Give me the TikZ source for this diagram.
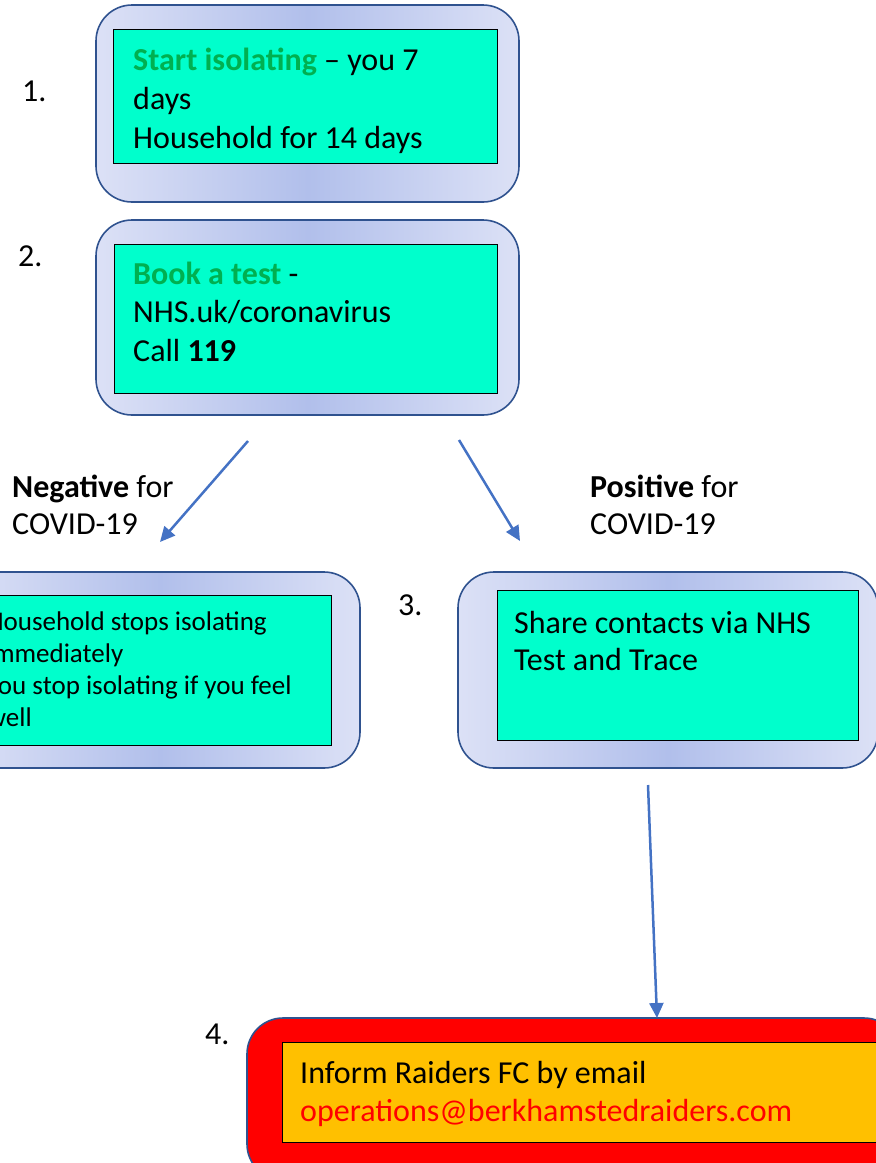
\documentclass[tikz,border=0pt]{standalone}
\usepackage{fontspec}
\setmainfont{Carlito}
\usetikzlibrary{arrows.meta}
\definecolor{aqua}{HTML}{00FFCC}
\definecolor{bordblue}{HTML}{2F528F}
\definecolor{arrblue}{HTML}{4472C4}
\definecolor{grn}{HTML}{00B050}
\definecolor{shin}{HTML}{B1BFEB}
\definecolor{shout}{HTML}{DCE1F6}
\definecolor{amber}{HTML}{FFC000}
\tikzset{
 boxbase/.style={draw=bordblue, line width=1.6pt, rounded corners=36pt, inner sep=0pt, outer sep=0pt},
 outerbox/.style={boxbase, left color=shout, right color=shout, middle color=shin},
 redbox/.style={boxbase, fill=red},
 innerbox/.style={draw=black, line width=0.9pt, fill=aqua, inner sep=0pt, outer sep=0pt},
 txt/.style={anchor=base west, inner sep=0pt, font=\fontsize{32}{38}\selectfont},
 stxt/.style={anchor=base west, inner sep=0pt, font=\fontsize{27}{32}\selectfont},
 conn/.style={draw=arrblue, line width=2.5pt, -{Triangle[length=15pt,width=14pt]}},
}
\begin{document}
\begin{tikzpicture}[x=1pt,y=-1pt]
\useasboundingbox (0,0) rectangle (876,1163);
\clip (0,0) rectangle (876,1163);
% box 1
\node[outerbox, minimum width=423pt, minimum height=197pt] (o1) at (307.5,103.5) {};
\node[innerbox, minimum width=384pt, minimum height=134pt] (i1) at (305,96) {};
\node[txt] (t1a) at (133,70) {\textcolor{grn}{\textbf{Start isolating}} – you 7};
\node[txt] (t1b) at (133,109) {days};
\node[txt] (t1c) at (133,148) {Household for 14 days};
\node[txt] (n1) at (22,101) {1.};
% box 2
\node[outerbox, minimum width=423pt, minimum height=195pt] (o2) at (307.5,317.5) {};
\node[innerbox, minimum width=383pt, minimum height=149pt] (i2) at (305.5,318.5) {};
\node[txt] (t2a) at (133,284) {\textcolor{grn}{\textbf{Book a test}} -};
\node[txt] (t2b) at (133,322) {NHS.uk/coronavirus};
\node[txt] (t2c) at (133,361) {Call \textbf{119}};
\node[txt] (n2) at (18,266) {2.};
% labels
\node[txt] (neg1) at (12,497) {\textbf{Negative} for};
\node[txt] (neg2) at (12,534) {COVID-19};
\node[txt] (pos1) at (590,497) {\textbf{Positive} for};
\node[txt] (pos2) at (590,534) {COVID-19};
% negative box
\node[outerbox, minimum width=400pt, minimum height=196pt] (o3) at (160,670) {};
\node[innerbox, minimum width=351pt, minimum height=150pt] (i3) at (155.5,670) {};
\node[stxt, anchor=base east] (t3a) at (267,630) {Household stops isolating};
\node[stxt] (t3b) at ([yshift=-32pt]t3a.base west) {immediately};
\node[stxt] (t3c) at ([yshift=-64pt]t3a.base west) {You stop isolating if you feel};
\node[stxt] (t3d) at ([yshift=-96pt]t3a.base west) {well};
% positive box
\node[outerbox, minimum width=420pt, minimum height=196pt] (o4) at (668,670) {};
\node[innerbox, minimum width=361pt, minimum height=150pt] (i4) at (677.5,665) {};
\node[txt] (t4a) at (514,633) {Share contacts via NHS};
\node[txt] (t4b) at (514,670) {Test and Trace};
\node[txt] (n3) at (398,615) {3.};
% box 4
\node[redbox, minimum width=653pt, minimum height=162pt] (o5) at (573.5,1099) {};
\node[innerbox, fill=amber, minimum width=618pt, minimum height=100pt] (i5) at (591,1092) {};
\node[txt] (t5a) at (300,1083) {Inform Raiders FC by email};
\node[txt] (t5b) at (300,1121) {\textcolor{red}{operations@berkhamstedraiders.com}};
\node[txt] (n4) at (205,1044) {4.};
% connectors
\coordinate (a1s) at (248,441);
\coordinate (a1e) at (160,542);
\coordinate (a2s) at (459,440);
\coordinate (a2e) at (520,541);
\coordinate (a3s) at (648,785);
\draw[conn] (a1s) -- (a1e);
\draw[conn] (a2s) -- (a2e);
\draw[conn] (a3s) -- (o5.north -| 657,0);
\end{tikzpicture}
\end{document}
